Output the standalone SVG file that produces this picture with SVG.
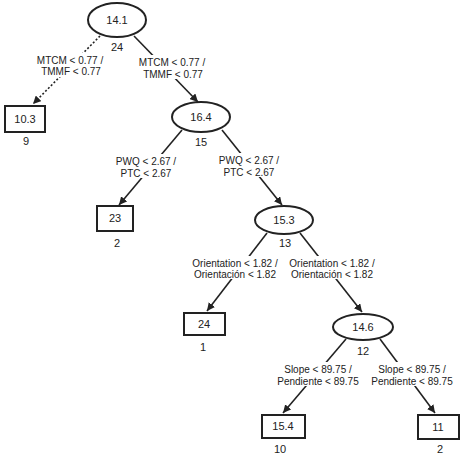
<svg xmlns="http://www.w3.org/2000/svg" width="460" height="457" viewBox="0 0 460 457">
<style>
.n{fill:#fff;stroke:#222;stroke-width:2}
.v{font-family:"Liberation Sans",Arial,sans-serif;font-size:11px;fill:#222;text-anchor:middle}
.l{font-family:"Liberation Sans",Arial,sans-serif;font-size:10px;fill:#222;text-anchor:middle}
.e{stroke:#222;stroke-width:1.6;fill:none;marker-end:url(#ah)}
.d{stroke-dasharray:2,2}
.bg{fill:#fff}
</style>
<defs>
<marker id="ah" viewBox="0 0 10 10" refX="10" refY="5" markerWidth="8" markerHeight="8" markerUnits="userSpaceOnUse" orient="auto">
<path d="M0,0 L10,5 L0,10 z" fill="#222"/>
</marker>
</defs>
<rect width="460" height="457" fill="#fff"/>
<g id="connectors">
<line class="e d" x1="100" y1="36" x2="33" y2="104"/>
<line class="e" x1="134" y1="36" x2="198" y2="102"/>
<line class="e" x1="182" y1="130" x2="119" y2="205"/>
<line class="e" x1="222" y1="130" x2="282" y2="205"/>
<line class="e" x1="267" y1="233" x2="207" y2="311"/>
<line class="e" x1="300" y1="233" x2="362" y2="312"/>
<line class="e" x1="346" y1="339" x2="283" y2="413"/>
<line class="e" x1="380" y1="339" x2="435" y2="413"/>
<rect class="bg" x="36" y="53" width="68" height="24"/>
<text class="l" x="70" y="64">MTCM &lt; 0.77 /</text>
<text class="l" x="71" y="75">TMMF &lt; 0.77</text>
<rect class="bg" x="138" y="55" width="68" height="24"/>
<text class="l" x="172" y="66">MTCM &lt; 0.77 /</text>
<text class="l" x="173" y="78">TMMF &lt; 0.77</text>
<rect class="bg" x="114" y="154" width="64" height="24"/>
<text class="l" x="146" y="165">PWQ &lt; 2.67 /</text>
<text class="l" x="146" y="177">PTC &lt; 2.67</text>
<rect class="bg" x="217" y="153" width="64" height="24"/>
<text class="l" x="249" y="164">PWQ &lt; 2.67 /</text>
<text class="l" x="249" y="176">PTC &lt; 2.67</text>
<rect class="bg" x="190" y="256" width="90" height="23"/>
<text class="l" x="235" y="267">Orientation &lt; 1.82 /</text>
<text class="l" x="235" y="278">Orientación &lt; 1.82</text>
<rect class="bg" x="287" y="256" width="90" height="23"/>
<text class="l" x="332" y="267">Orientation &lt; 1.82 /</text>
<text class="l" x="332" y="278">Orientación &lt; 1.82</text>
<rect class="bg" x="276" y="362" width="84" height="24"/>
<text class="l" x="318" y="373">Slope &lt; 89.75 /</text>
<text class="l" x="318" y="385">Pendiente &lt; 89.75</text>
<rect class="bg" x="370" y="362" width="84" height="24"/>
<text class="l" x="412" y="373">Slope &lt; 89.75 /</text>
<text class="l" x="412" y="385">Pendiente &lt; 89.75</text>
</g>
<g id="n141">
<ellipse class="n" cx="117" cy="20" rx="29" ry="17"/>
<text class="v" x="117" y="24">14.1</text>
<text class="v" x="117" y="51">24</text>
</g>
<g id="n103">
<rect class="n" x="5" y="106" width="40" height="26"/>
<text class="v" x="25" y="123">10.3</text>
<text class="v" x="26" y="145">9</text>
</g>
<g id="n164">
<ellipse class="n" cx="201" cy="117" rx="29" ry="15"/>
<text class="v" x="201" y="121">16.4</text>
<text class="v" x="201" y="146">15</text>
</g>
<g id="n23">
<rect class="n" x="97" y="206" width="36" height="25"/>
<text class="v" x="115" y="222">23</text>
<text class="v" x="117" y="247">2</text>
</g>
<g id="n153">
<ellipse class="n" cx="284" cy="220" rx="29" ry="14"/>
<text class="v" x="284" y="224">15.3</text>
<text class="v" x="285" y="247">13</text>
</g>
<g id="n24">
<rect class="n" x="184" y="313" width="41" height="22"/>
<text class="v" x="204" y="328">24</text>
<text class="v" x="203" y="351">1</text>
</g>
<g id="n146">
<ellipse class="n" cx="363" cy="327" rx="30" ry="13"/>
<text class="v" x="363" y="331">14.6</text>
<text class="v" x="363" y="355">12</text>
</g>
<g id="n154">
<rect class="n" x="262" y="415" width="43" height="23"/>
<text class="v" x="283" y="430">15.4</text>
<text class="v" x="280" y="453">10</text>
</g>
<g id="n11">
<rect class="n" x="418" y="415" width="41" height="24"/>
<text class="v" x="438" y="431">11</text>
<text class="v" x="440" y="453">2</text>
</g>
</svg>
